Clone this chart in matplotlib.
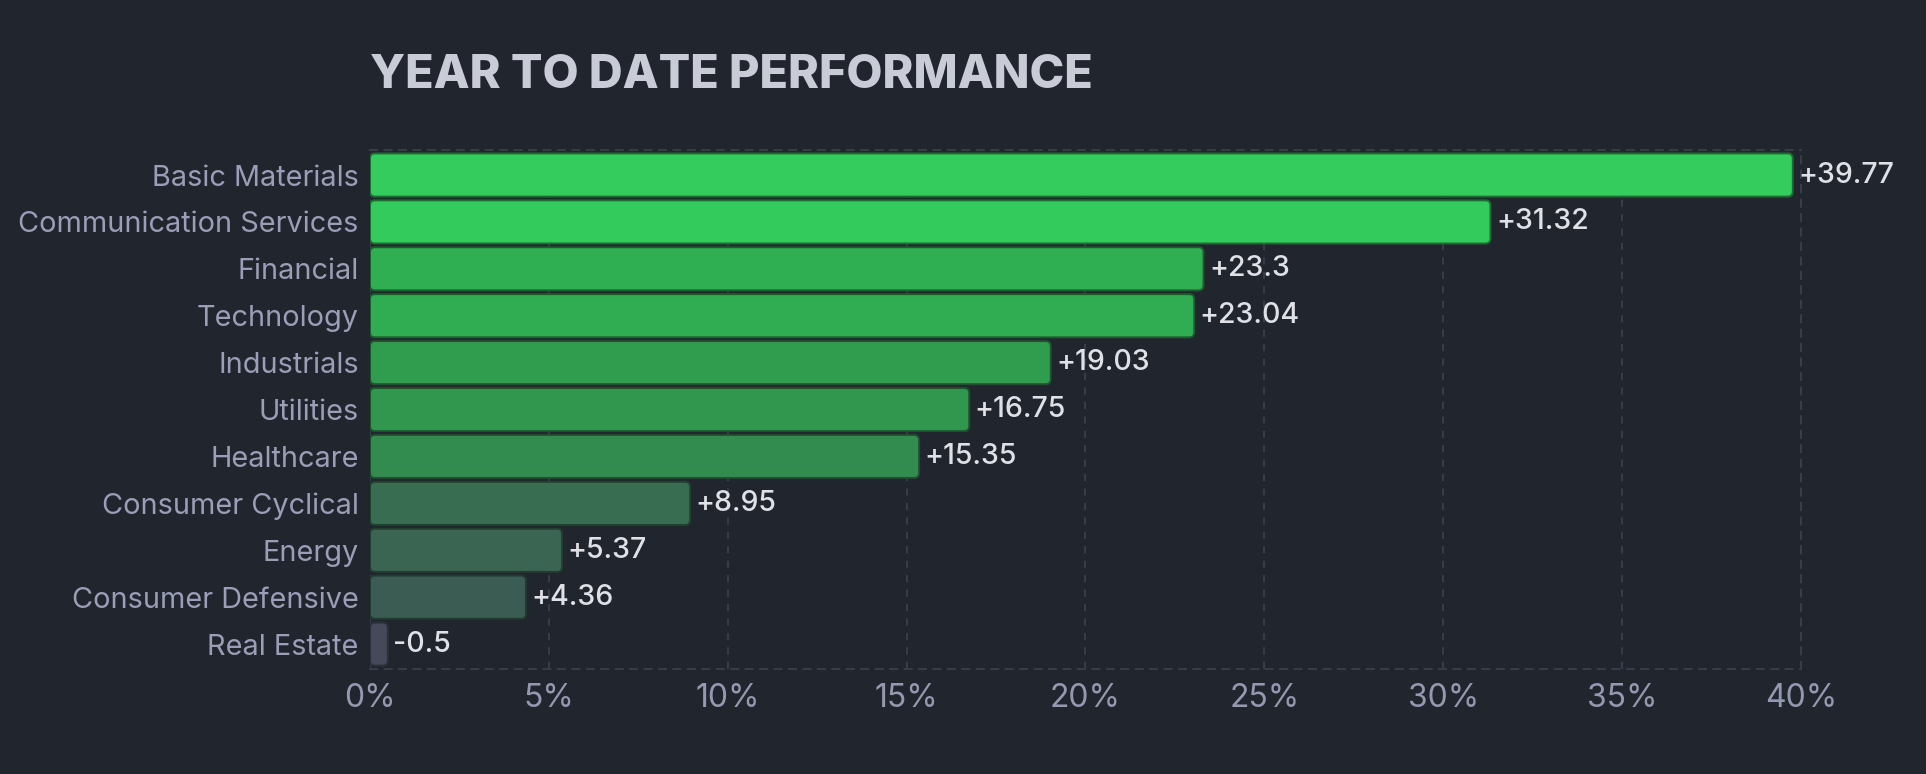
import matplotlib.pyplot as plt
from matplotlib.patches import FancyBboxPatch

sectors = [
    "Basic Materials", "Communication Services", "Financial", "Technology",
    "Industrials", "Utilities", "Healthcare", "Consumer Cyclical", "Energy",
    "Consumer Defensive", "Real Estate",
]
ytd = [39.77, 31.32, 23.3, 23.04, 19.03, 16.75, 15.35, 8.95, 5.37, 4.36, -0.5]
bar_colors = [
    "#33cc5d", "#33cb5c", "#30ae52", "#30ac52", "#309c4e", "#31974e",
    "#328c4f", "#386d51", "#3a6552", "#3b5c53", "#454959",
]
edge_colors = [
    "#1f6a35", "#1f6a35", "#1d5c2f", "#1d5c2f", "#1d542d", "#1d522d",
    "#1e4d2e", "#22402f", "#233d31", "#233a31", "#2c2f39",
]
x_ticks = [0, 5, 10, 15, 20, 25, 30, 35, 40]

BG = "#21252e"
GRID = "#3a3f4b"

plt.rcParams["font.family"] = ["Inter", "DejaVu Sans"]

fig = plt.figure(figsize=(19.26, 7.74), dpi=100, facecolor=BG)
ax = fig.add_axes([0.1921, 0.1357, 0.9351 - 0.1921, 0.806 - 0.1357])
ax.set_facecolor(BG)

ypos = list(range(len(sectors)))
ax.set_xlim(0, 40)
ax.set_ylim(len(sectors) - 0.47, -0.53)

# plain bars give the geometry, then get swapped for rounded ones
bars = ax.barh(ypos, [abs(v) for v in ytd], height=0.92, color="none")
fig.canvas.draw()
bbox = ax.get_window_extent()
x_per_px = 40 / bbox.width
y_per_px = (len(sectors) + 0.06) / bbox.height
radius_px = 5
for bar, fc, ec in zip(bars, bar_colors, edge_colors):
    x0, y0 = bar.get_x(), bar.get_y()
    w, h = bar.get_width(), bar.get_height()
    patch = FancyBboxPatch(
        (x0, y0), w, h,
        boxstyle=f"round,pad=0,rounding_size={radius_px * x_per_px}",
        mutation_aspect=y_per_px / x_per_px,
        facecolor=fc, edgecolor=ec, linewidth=1.4, zorder=3,
    )
    ax.add_patch(patch)
    bar.remove()

for y, v in zip(ypos, ytd):
    label = f"+{v:g}" if v > 0 else f"{v:g}"
    ax.annotate(label, (abs(v), y), xytext=(4, 0), textcoords="offset points",
                va="center", ha="left", color="#dfe1e7", fontsize=20.5,
                fontweight="medium", zorder=4)

ax.set_yticks(ypos)
ax.set_yticklabels(sectors)
ax.set_xticks(x_ticks)
ax.set_xticklabels([f"{t}%" for t in x_ticks])
ax.tick_params(axis="y", length=0, pad=8, labelsize=20.8, labelcolor="#9a9eb6")
ax.tick_params(axis="x", length=0, pad=10, labelsize=23, labelcolor="#9499b0")

ax.grid(axis="x", color=GRID, linestyle=(0, (4, 4)), linewidth=1.3, zorder=0)
ax.spines["left"].set_visible(False)
for side in ["top", "bottom", "right"]:
    ax.spines[side].set_color(GRID)
    ax.spines[side].set_linestyle((0, (4, 4)))
    ax.spines[side].set_linewidth(1.3)

fig.text(0.1921, 0.886, "YEAR TO DATE PERFORMANCE", color="#c9ccd6",
         fontsize=33.7, fontweight="heavy", ha="left", va="baseline")

fig.savefig("out.png", dpi=100, facecolor=BG)
